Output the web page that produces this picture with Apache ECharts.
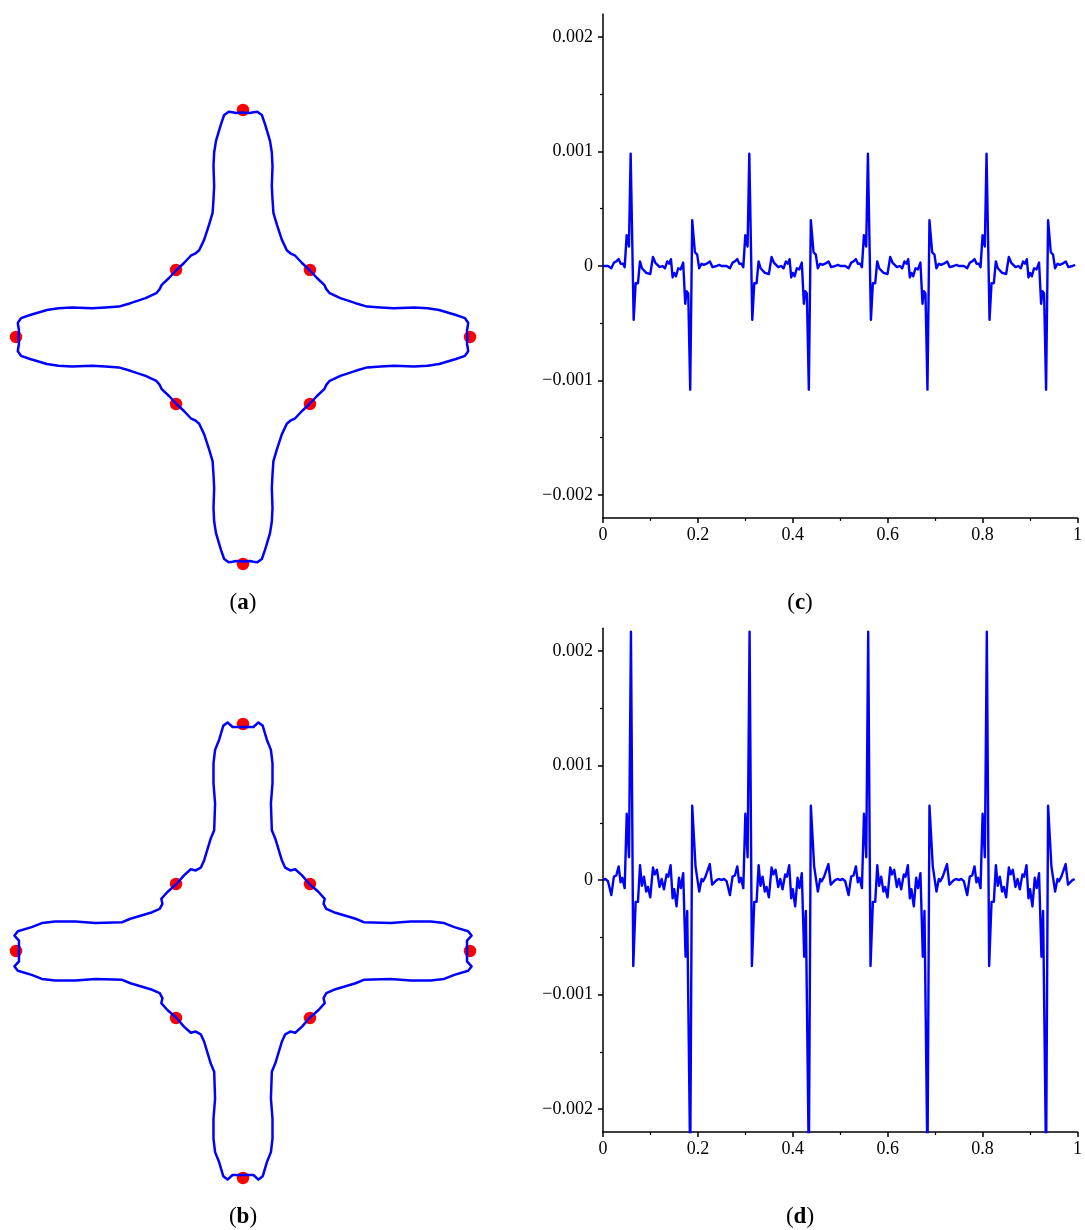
<!DOCTYPE html>
<html>
<head>
<meta charset="utf-8">
<script src="https://cdn.jsdelivr.net/npm/echarts@6/dist/echarts.min.js"></script>
<style>
  html, body { margin: 0; padding: 0; background: #ffffff; }
  #chart { width: 1085px; height: 1230px; }
</style>
</head>
<body>
<div id="chart"></div>
<script>
// ---- Closed outlines (a) and (b) ----
// The outline has the symmetry of a square, so one eighth is listed:
// from the top of the upper arm (0, ~1) down to the diagonal.
const OCTANT_A = [
  [0.000, 0.989], [0.031, 0.987], [0.046, 0.990], [0.063, 0.992],
  [0.083, 0.978], [0.097, 0.938], [0.119, 0.864], [0.127, 0.813],
  [0.130, 0.754], [0.127, 0.665], [0.130, 0.606], [0.134, 0.547],
  [0.149, 0.496], [0.171, 0.429], [0.193, 0.382], [0.211, 0.367],
  [0.230, 0.358], [0.260, 0.326], [0.294, 0.294]
];
const OCTANT_B = [
  [0.000, 0.987], [0.016, 0.987], [0.046, 0.987], [0.068, 1.007],
  [0.087, 0.992], [0.105, 0.931], [0.123, 0.886], [0.130, 0.827],
  [0.130, 0.739], [0.123, 0.650], [0.127, 0.532], [0.142, 0.496],
  [0.171, 0.400], [0.186, 0.367], [0.208, 0.355], [0.230, 0.360],
  [0.260, 0.333], [0.294, 0.294]
];
// Marked points on the outline
const MARKS = [
  [0, 1], [0.295, 0.295], [1, 0], [0.295, -0.295],
  [0, -1], [-0.295, -0.295], [-1, 0], [-0.295, 0.295]
];

// ---- Error signals (c) and (d): one quarter turn, t in [0, 0.25) ----
const PERIOD_C = [
  [0.000, 0.00000], [0.005, 0.00000], [0.0105, 0.00000], [0.0175, -0.00002],
  [0.0232, 0.00003], [0.028, 0.00004], [0.033, 0.00006], [0.0373, 0.00002],
  [0.0421, 0.00002], [0.0457, -0.00001], [0.0499, 0.00027], [0.0526, 0.00026],
  [0.0547, 0.00017], [0.0583, 0.00098], [0.0646, -0.00047], [0.0688, -0.00015],
  [0.0737, -0.00015], [0.0779, 0.00004], [0.0821, -0.00002], [0.0863, -0.00001],
  [0.0912, -0.00006], [0.0947, -0.00005], [0.0996, -0.00007], [0.1053, 0.00008],
  [0.1101, 0.00003], [0.1143, 0.00004], [0.1194, -0.00001], [0.1257, 0.00000],
  [0.1305, -0.00002], [0.1354, 0.00004], [0.1396, 0.00002], [0.1432, 0.00006],
  [0.1467, -0.00010], [0.1501, -0.00006], [0.1537, -0.00009], [0.1585, -0.00002],
  [0.1636, -0.00003], [0.169, 0.00003], [0.1733, -0.00033], [0.1762, -0.00022],
  [0.1796, -0.00024], [0.1838, -0.00108], [0.188, 0.00040], [0.1937, 0.00012],
  [0.1985, 0.00010], [0.2027, -0.00002], [0.2078, 0.00002], [0.2126, 0.00001],
  [0.2183, 0.00002], [0.2253, 0.00004], [0.2309, -0.00001], [0.2394, 0.00000],
  [0.245, 0.00001]
];
const PERIOD_D = [
  [0.000, 0.00000], [0.005, 0.00001], [0.0105, -0.00001], [0.014, -0.00001],
  [0.0175, -0.00013], [0.023, 0.00003], [0.028, 0.00004], [0.033, 0.00012],
  [0.037, -0.00002], [0.0406, 0.00002], [0.0457, -0.00007], [0.050, 0.00058],
  [0.0527, 0.00037], [0.0548, 0.00020], [0.0589, 0.00217], [0.0638, -0.00075],
  [0.0688, -0.00019], [0.0737, -0.00019], [0.078, 0.00013], [0.082, -0.00005],
  [0.0863, 0.00003], [0.091, -0.00010], [0.0947, -0.00006], [0.0996, -0.00015],
  [0.1053, 0.00011], [0.109, 0.00005], [0.1137, 0.00009], [0.1193, -0.00006],
  [0.1236, 0.00001], [0.1284, -0.00008], [0.134, 0.00005], [0.1375, 0.00003],
  [0.1425, 0.00013], [0.1467, -0.00016], [0.150, -0.00008], [0.155, -0.00023],
  [0.160, 0.00002], [0.164, -0.00007], [0.169, 0.00006], [0.174, -0.00067],
  [0.1775, -0.00027], [0.1804, -0.00027], [0.1838, -0.00250], [0.188, 0.00065],
  [0.195, 0.00012], [0.1986, 0.00012], [0.2028, -0.00010], [0.2078, 0.00001],
  [0.211, -0.00001], [0.216, 0.00003], [0.220, 0.00002], [0.225, 0.00014],
  [0.230, -0.00004], [0.2345, -0.00002], [0.2394, 0.00000], [0.244, 0.00001]
];
const PERIOD_LENGTH = 0.25;
const PERIOD_COUNT = 4;

const X_TICKS_INTERVAL = 0.2;
const Y_MAJOR = [-0.002, -0.001, 0, 0.001, 0.002];
const Y_MINOR = [-0.0015, -0.0005, 0.0005, 0.0015];
const CAPTIONS = ['a', 'b', 'c', 'd'];

// Builds the whole outline from the listed eighth by mirroring across the
// diagonal and turning it by quarter turns (clockwise from the top).
function buildOutline(oct) {
  const quarter = oct.concat(oct.slice(0, -1).reverse().map(([x, y]) => [y, x]));
  const turns = [
    ([x, y]) => [x, y],
    ([x, y]) => [y, -x],
    ([x, y]) => [-x, -y],
    ([x, y]) => [-y, x]
  ];
  const pts = [];
  turns.forEach(f => quarter.slice(0, -1).forEach(p => pts.push(f(p))));
  pts.push(pts[0]);
  return pts;
}

// The signal repeats every quarter turn.
function buildSignal(period) {
  const out = [];
  for (let k = 0; k < PERIOD_COUNT; k++) {
    period.forEach(([t, v]) => out.push([+(t + k * PERIOD_LENGTH).toFixed(4), v]));
  }
  return out;
}

const FONT = "'Liberation Serif', 'Times New Roman', serif";
const BLUE = '#0000ff';
const RED = '#ff0000';

const fmtY = v => {
  if (Math.abs(v) < 1e-12) return '0';
  return (v < 0 ? '\u2212' : '') + Math.abs(v).toFixed(3);
};

// Layout of the four panels
const SHAPE_RANGE = 1.06;
const SHAPE_SIZE = 481.2;
const grids = [
  { left: 2.4, top: 96.4, width: SHAPE_SIZE, height: SHAPE_SIZE },   // (a)
  { left: 2.4, top: 710.4, width: SHAPE_SIZE, height: SHAPE_SIZE },  // (b)
  { left: 603, top: 14.1, width: 475, height: 503.8 },               // (c)
  { left: 603, top: 628.2, width: 475, height: 503.8 }               // (d)
];

const axisLineStyle = { color: '#000', width: 1.5 };
const hiddenAxis = (gi) => ({
  type: 'value', gridIndex: gi, min: -SHAPE_RANGE, max: SHAPE_RANGE, show: false
});

const xAxes = [
  hiddenAxis(0),
  hiddenAxis(1),
  ...[2, 3].map(gi => ({
    type: 'value', gridIndex: gi, min: 0, max: 1, interval: X_TICKS_INTERVAL,
    axisLine: { show: true, onZero: false, lineStyle: axisLineStyle },
    axisTick: { show: true, length: 5, lineStyle: axisLineStyle },
    minorTick: { show: true, splitNumber: 2, length: 3, lineStyle: { color: '#000', width: 1.2 } },
    splitLine: { show: false },
    axisLabel: { color: '#000', fontFamily: FONT, fontSize: 18, margin: 8 }
  }))
];

const yAxes = [
  hiddenAxis(0),
  hiddenAxis(1)
];
[2, 3].forEach(gi => {
  yAxes.push({
    type: 'value', gridIndex: gi, min: -0.0022, max: 0.0022, position: 'left',
    axisLine: { show: true, onZero: false, lineStyle: axisLineStyle },
    axisTick: { show: true, length: 5, customValues: Y_MAJOR, lineStyle: axisLineStyle },
    splitLine: { show: false },
    axisLabel: { color: '#000', fontFamily: FONT, fontSize: 18, margin: 10,
                 customValues: Y_MAJOR, formatter: fmtY }
  });
  yAxes.push({
    type: 'value', gridIndex: gi, min: -0.0022, max: 0.0022, position: 'left', offset: 0,
    axisLine: { show: false },
    axisTick: { show: true, length: 3, customValues: Y_MINOR, lineStyle: { color: '#000', width: 1.2 } },
    splitLine: { show: false },
    axisLabel: { show: false }
  });
});

const outlineSeries = (idx, oct) => ([
  {
    type: 'scatter', xAxisIndex: idx, yAxisIndex: idx, data: MARKS,
    symbol: 'circle', symbolSize: 12.5, itemStyle: { color: RED, opacity: 1 }, z: 2, silent: true
  },
  {
    type: 'line', xAxisIndex: idx, yAxisIndex: idx, data: buildOutline(oct),
    showSymbol: false, symbol: 'none', clip: false,
    lineStyle: { color: BLUE, width: 2.5, join: 'round' }, z: 3, silent: true
  }
]);

const signalSeries = (xi, yi, period) => ({
  type: 'line', xAxisIndex: xi, yAxisIndex: yi, data: buildSignal(period),
  showSymbol: false, symbol: 'none', clip: true,
  lineStyle: { color: BLUE, width: 2.4, join: 'round' }, z: 3, silent: true
});

const captionPos = [[243, 603], [243, 1217], [800, 603], [800, 1217]];
const graphics = CAPTIONS.map((c, i) => ({
  type: 'text', x: captionPos[i][0], y: captionPos[i][1],
  style: {
    text: '{n|(}{b|' + c + '}{n|)}',
    align: 'center', verticalAlign: 'middle',
    rich: {
      n: { fontFamily: FONT, fontSize: 23, fill: '#000', color: '#000' },
      b: { fontFamily: FONT, fontSize: 23, fontWeight: 'bold', fill: '#000', color: '#000' }
    }
  }
}));

const chart = echarts.init(document.getElementById('chart'), null, { renderer: 'canvas' });
chart.setOption({
  backgroundColor: '#ffffff',
  animation: false,
  grid: grids,
  xAxis: xAxes,
  yAxis: yAxes,
  series: [
    ...outlineSeries(0, OCTANT_A),
    ...outlineSeries(1, OCTANT_B),
    signalSeries(2, 2, PERIOD_C),
    signalSeries(3, 4, PERIOD_D)
  ],
  graphic: graphics
});
</script>
</body>
</html>
